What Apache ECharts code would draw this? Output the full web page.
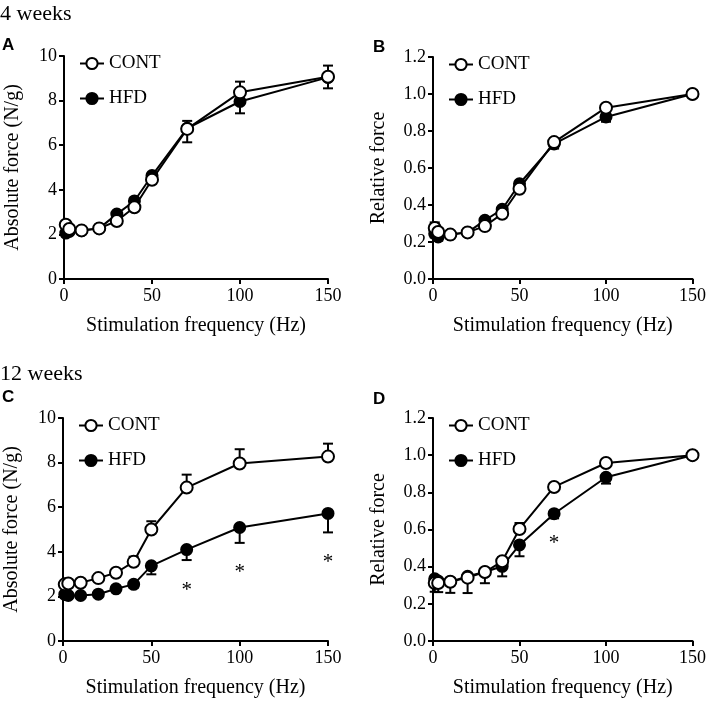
<!DOCTYPE html>
<html><head><meta charset="utf-8">
<script src="https://cdn.jsdelivr.net/npm/echarts@6/dist/echarts.min.js"></script>
<style>html,body{margin:0;padding:0;background:#fff}#c{width:709px;height:701px}</style>
</head><body><div id="c"></div>
<script>
// Stimulation frequencies (Hz)
var freq = [1, 3, 10, 20, 30, 40, 50, 70, 100, 150];
var xTicks = [0, 50, 100, 150];

// Panel A: 4 weeks, absolute force (N/g)
var aContY   = [2.43, 2.24, 2.18, 2.27, 2.60, 3.22, 4.45, 6.73, 8.37, 9.07];
var aContErr = [0.15, 0.10, 0.10, 0.10, 0.15, 0.20, 0.25, 0.36, 0.48, 0.50];
var aHfdY    = [2.06, 2.13, 2.17, 2.27, 2.91, 3.50, 4.64, 6.76, 7.96, 9.04];
var aHfdErr  = [0.10, 0.10, 0.10, 0.10, 0.15, 0.20, 0.20, 0.63, 0.53, 0.49];

// Panel B: 4 weeks, relative force
var bContY   = [0.276, 0.254, 0.240, 0.252, 0.286, 0.353, 0.488, 0.740, 0.926, 1.000];
var bContErr = [0.030, 0.020, 0.010, 0.010, 0.020, 0.020, 0.020, 0.020, 0.010, 0.000];
var bHfdY    = [0.245, 0.227, 0.240, 0.252, 0.317, 0.377, 0.515, 0.730, 0.876, 1.000];
var bHfdErr  = [0.020, 0.020, 0.010, 0.010, 0.020, 0.020, 0.020, 0.025, 0.026, 0.000];

// Panel C: 12 weeks, absolute force (N/g)
var cContY   = [2.54, 2.58, 2.61, 2.82, 3.06, 3.55, 5.00, 6.88, 7.96, 8.27];
var cContErr = [0.10, 0.10, 0.10, 0.10, 0.15, 0.23, 0.37, 0.58, 0.64, 0.58];
var cHfdY    = [2.09, 2.04, 2.04, 2.10, 2.34, 2.54, 3.37, 4.10, 5.09, 5.72];
var cHfdErr  = [0.10, 0.10, 0.10, 0.10, 0.10, 0.15, 0.38, 0.47, 0.69, 0.85];
var cStarX   = [70, 100, 150];
var cStarY   = [2.46, 3.25, 3.70];

// Panel D: 12 weeks, relative force
var dContY   = [0.312, 0.312, 0.319, 0.341, 0.371, 0.429, 0.603, 0.829, 0.958, 1.000];
var dContErr = [0.020, 0.020, 0.020, 0.020, 0.020, 0.020, 0.032, 0.010, 0.010, 0.000];
var dHfdY    = [0.335, 0.323, 0.319, 0.348, 0.371, 0.402, 0.517, 0.685, 0.881, 1.000];
var dHfdErr  = [0.070, 0.060, 0.060, 0.090, 0.060, 0.054, 0.061, 0.025, 0.034, 0.000];
var dStarX   = [70];
var dStarY   = [0.55];

var seriesNames = ['CONT', 'HFD'];
var panelTitles = ['4 weeks', '12 weeks'];
var panelLetters = ['A', 'B', 'C', 'D'];
var yNames = ['Absolute force (N/g)', 'Relative force', 'Absolute force (N/g)', 'Relative force'];
var xName = 'Stimulation frequency (Hz)';

var SERIF = 'Liberation Serif';
var chart = echarts.init(document.getElementById('c'));

var grids = [
  {left: 64, top: 56, width: 264, height: 223},
  {left: 433, top: 57, width: 263, height: 222},
  {left: 63, top: 418, width: 265, height: 223},
  {left: 433, top: 418, width: 263, height: 223}
];
var yCfg = [
  {max: 10, interval: 2, dec: 0},
  {max: 1.2, interval: 0.2, dec: 1},
  {max: 10, interval: 2, dec: 0},
  {max: 1.2, interval: 0.2, dec: 1}
];

function pairs(ys) { return freq.map(function (f, i) { return [f, ys[i]]; }); }
function errData(ys, es, dir) { return freq.map(function (f, i) { return [f, ys[i], es[i], dir]; }); }

var axisLine = {show: true, onZero: false, lineStyle: {color: '#000', width: 2}};
var xAxes = [], yAxes = [], series = [], legends = [];
grids.forEach(function (g, k) {
  xAxes.push({
    type: 'value', gridIndex: k, min: 0, max: 150, interval: 50,
    name: xName, nameLocation: 'middle', nameGap: 37,
    nameTextStyle: {fontFamily: SERIF, fontSize: 20, color: '#000'},
    axisLine: axisLine, axisTick: {show: true, length: 5, lineStyle: {color: '#000', width: 2}},
    axisLabel: {fontFamily: SERIF, fontSize: 18, color: '#000', margin: 8},
    splitLine: {show: false}
  });
  var c = yCfg[k];
  yAxes.push({
    type: 'value', gridIndex: k, min: 0, max: c.max, interval: c.interval,
    name: yNames[k], nameLocation: 'middle', nameGap: k % 2 ? 44 : 41,
    nameTextStyle: {fontFamily: SERIF, fontSize: 20, color: '#000'},
    axisLine: axisLine, axisTick: {show: true, length: 5, lineStyle: {color: '#000', width: 2}},
    axisLabel: {fontFamily: SERIF, fontSize: 18, color: '#000', margin: 7,
      formatter: function (v) { return v.toFixed(c.dec); }},
    splitLine: {show: false}
  });
  legends.push({
    orient: 'vertical', left: g.left + 10, top: g.top - 7, itemGap: 16,
    itemWidth: 24, itemHeight: 14, selectedMode: false,
    data: seriesNames,
    textStyle: {fontFamily: SERIF, fontSize: 19, color: '#000'}
  });
});

function errorRender(params, api) {
  var x = api.value(0), y = api.value(1), e = api.value(2), dir = api.value(3);
  if (!e) return;
  var p0 = api.coord([x, y]);
  var p1 = api.coord([x, y + dir * e]);
  var cap = 5;
  var st = {stroke: '#000', lineWidth: 2};
  return {type: 'group', children: [
    {type: 'line', shape: {x1: p0[0], y1: p0[1], x2: p1[0], y2: p1[1]}, style: st},
    {type: 'line', shape: {x1: p1[0] - cap, y1: p1[1], x2: p1[0] + cap, y2: p1[1]}, style: st}
  ]};
}
var STAR_FS = 21;
function starRender(params, api) {
  var p = api.coord([api.value(0), api.value(1)]);
  // the asterisk glyph sits high in its em box; nudge so the glyph centre lands on the point
  return {type: 'text', x: p[0], y: p[1] + STAR_FS * 0.2,
    style: {text: '*', fontFamily: SERIF, fontSize: STAR_FS, fill: '#000', align: 'center', verticalAlign: 'middle'}};
}

var panels = [
  [aContY, aContErr, aHfdY, aHfdErr, null, null],
  [bContY, bContErr, bHfdY, bHfdErr, null, null],
  [cContY, cContErr, cHfdY, cHfdErr, cStarX, cStarY],
  [dContY, dContErr, dHfdY, dHfdErr, dStarX, dStarY]
];
panels.forEach(function (p, k) {
  series.push({type: 'custom', xAxisIndex: k, yAxisIndex: k, renderItem: errorRender,
    data: errData(p[2], p[3], -1), z: 1, silent: true});
  series.push({type: 'custom', xAxisIndex: k, yAxisIndex: k, renderItem: errorRender,
    data: errData(p[0], p[1], 1), z: 1, silent: true});
  series.push({name: 'HFD', type: 'line', xAxisIndex: k, yAxisIndex: k, data: pairs(p[2]),
    symbol: 'circle', symbolSize: 11, z: 2,
    lineStyle: {color: '#000', width: 2},
    itemStyle: {color: '#000', borderColor: '#000', borderWidth: 2}});
  series.push({name: 'CONT', type: 'line', xAxisIndex: k, yAxisIndex: k, data: pairs(p[0]),
    symbol: 'circle', symbolSize: 12, z: 3,
    lineStyle: {color: '#000', width: 2},
    itemStyle: {color: '#fff', borderColor: '#000', borderWidth: 2}});
  if (p[4]) {
    series.push({type: 'custom', xAxisIndex: k, yAxisIndex: k, silent: true, z: 4,
      data: p[4].map(function (x, i) { return [x, p[5][i]]; }),
      renderItem: starRender});
  }
});

var tStyle = {fontFamily: SERIF, fontSize: 22, fontWeight: 'normal', color: '#000'};
var lStyle = {fontFamily: 'Liberation Sans', fontSize: 17, fontWeight: 'bold', color: '#000'};
var titles = [
  {text: panelTitles[0], left: 0, top: 3, padding: 0, textStyle: tStyle},
  {text: panelTitles[1], left: 0, top: 363, padding: 0, textStyle: tStyle},
  {text: panelLetters[0], left: 2, top: 37, padding: 0, textStyle: lStyle},
  {text: panelLetters[1], left: 373, top: 39, padding: 0, textStyle: lStyle},
  {text: panelLetters[2], left: 2, top: 389, padding: 0, textStyle: lStyle},
  {text: panelLetters[3], left: 373, top: 391, padding: 0, textStyle: lStyle}
];

chart.setOption({
  animation: false,
  backgroundColor: '#fff',
  title: titles,
  legend: legends,
  grid: grids,
  xAxis: xAxes,
  yAxis: yAxes,
  series: series
});
</script>
</body></html>
